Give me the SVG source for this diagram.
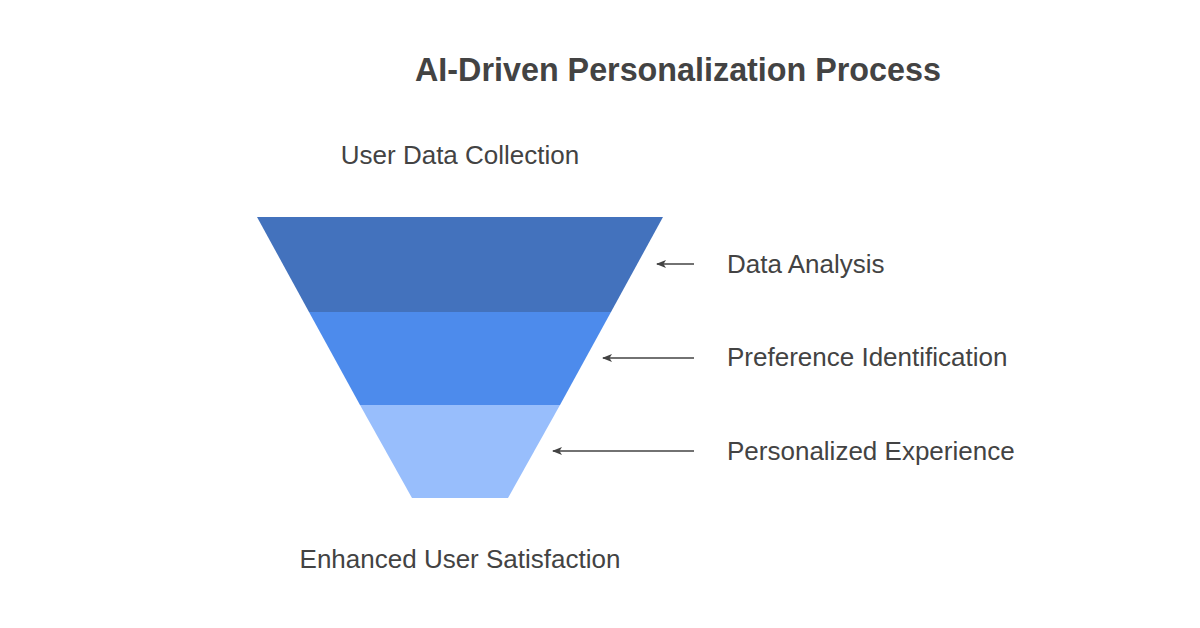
<svg xmlns="http://www.w3.org/2000/svg" width="1200" height="628" viewBox="0 0 1200 628">
<defs>
<style>
.t{font-family:"Liberation Sans",Arial,sans-serif;fill:#434343;font-size:26px}
.title{font-family:"Liberation Sans",Arial,sans-serif;fill:#434343;font-size:32.3px;font-weight:bold}
.c{stroke:#434343;stroke-width:1.5;fill:none}
</style>
<marker id="ah" viewBox="0 0 10 10" refX="9" refY="5" markerWidth="10" markerHeight="10" markerUnits="userSpaceOnUse" orient="auto">
<path d="M0,1 L10,5 L0,9 L2.5,5 Z" fill="#434343"/>
</marker>
</defs>
<rect width="1200" height="628" fill="#ffffff"/>
<text class="title" x="678" y="81" text-anchor="middle">AI-Driven Personalization Process</text>
<g id="top-label"><text class="t" x="460" y="164" text-anchor="middle">User Data Collection</text></g>
<g id="stage1"><polygon points="257,217 663,217 611,312 309,312" fill="#4372BD"/></g>
<g id="stage2"><polygon points="309,312 611,312 560,405 360,405" fill="#4D8BEC"/></g>
<g id="stage3"><polygon points="360,405 560,405 508,498 412,498" fill="#98BEFC"/></g>
<g id="bottom-label"><text class="t" x="460" y="568" text-anchor="middle">Enhanced User Satisfaction</text></g>
<g id="label1"><text class="t" x="727" y="273">Data Analysis</text></g>
<g id="label2"><text class="t" x="727" y="366">Preference Identification</text></g>
<g id="label3"><text class="t" x="727" y="460">Personalized Experience</text></g>
<g id="connectors">
<line class="c" x1="694" y1="264" x2="657" y2="264" marker-end="url(#ah)"/>
<line class="c" x1="694" y1="358" x2="603" y2="358" marker-end="url(#ah)"/>
<line class="c" x1="694" y1="451" x2="553" y2="451" marker-end="url(#ah)"/>
</g>
</svg>
